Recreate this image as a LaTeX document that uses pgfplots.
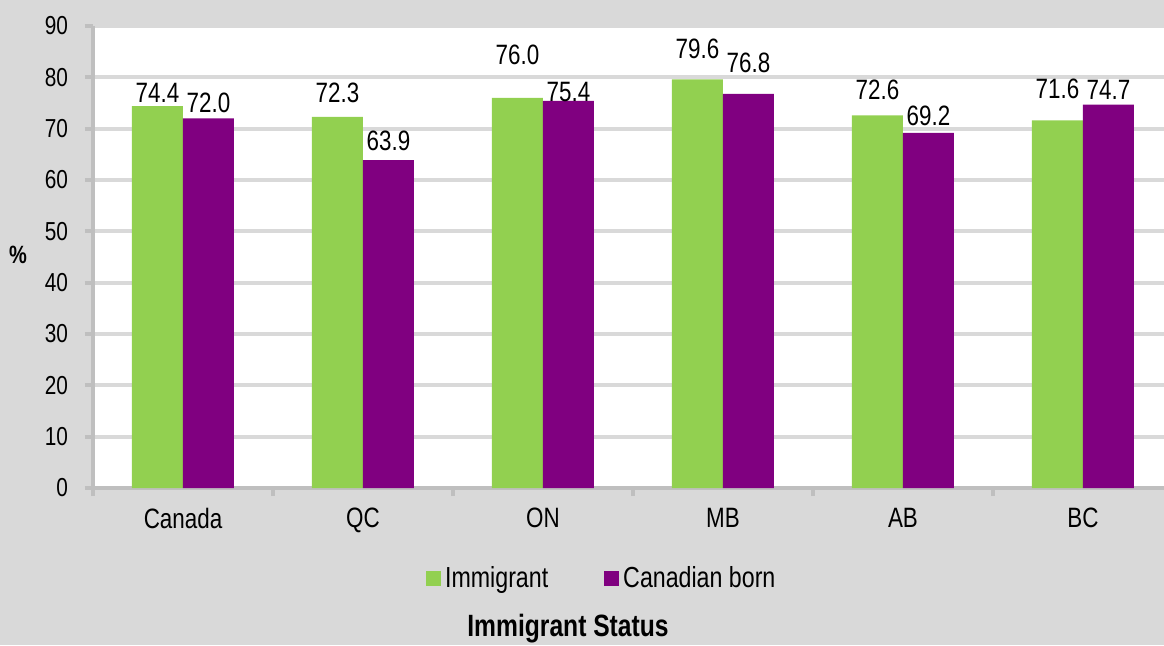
\documentclass[border=0pt]{standalone}
\usepackage{fontspec}
\setmainfont{Liberation Sans}[FakeStretch=0.8]
\usepackage{pgfplots}
\pgfplotsset{compat=1.18}
\definecolor{immig}{HTML}{92D050}
\definecolor{canborn}{HTML}{800080}
\definecolor{bg}{HTML}{D9D9D9}
\definecolor{axgray}{HTML}{BFBFBF}

% x, value, dy = extra lift of the value label (pt)
\begin{document}
\begin{tikzpicture}
\fill[bg] (-46.5pt,-78.5pt) rectangle (535.5pt,244pt);
\begin{axis}[
  at={(0,0)}, anchor=south west,
  scale only axis, width=535.5pt, height=231pt,
  axis background/.style={fill=white},
  ybar=0pt, bar width=25.5pt,
  ymin=0, ymax=90, ytick={0,10,...,90},
  xmin=-0.5, xmax=5.45,
  xtick={0,...,5}, xticklabels={Canada,QC,ON,MB,AB,BC},
  minor xtick={-0.5,0.5,...,5.5},
  tick align=outside, major tick length=4pt, minor tick length=4pt,
  tick style={axgray, line width=2pt},
  major x tick style={draw=none},
  axis x line*=bottom, axis y line*=left,
  axis line style={axgray, line width=2pt, -},
  ymajorgrids, grid style={bg, line width=2pt},
  /pgf/number format/assume math mode=true,
  yticklabel style={font=\fontsize{13}{15}\selectfont, xshift=-5pt},
  xticklabel style={font=\fontsize{14}{16}\selectfont, yshift=-2.5pt},
  visualization depends on={\thisrow{dy} \as \dy},
  nodes near coords={\pgfmathprintnumber[fixed,fixed zerofill,precision=1,assume math mode=true]{\pgfplotspointmeta}},
  every node near coord/.append style={font=\fontsize{14}{16}\selectfont, inner sep=1.5pt, black, yshift=\dy pt},
  legend style={at={(0.476,-0.195)}, anchor=center, draw=none, fill=none,
    legend columns=2, font=\fontsize{14.5}{17}\selectfont,
    /tikz/every even column/.append style={column sep=26pt}},
  legend image code/.code={\fill[#1] (0pt,-3.75pt) rectangle (7.5pt,3.75pt);},
]
\addplot[fill=immig, draw=none] table {
x y dy
0 74.4 0
1 72.3 5.5
2 76.0 15
3 79.6 8.5
4 72.6 6
5 71.6 9
};
\addplot[fill=canborn, draw=none] table {
x y dy
0 72.0 1
1 63.9 3
2 75.4 -2
3 76.8 9
4 69.2 2
5 74.7 1
};
\legend{Immigrant, Canadian born}
\end{axis}
\node[font=\bfseries\fontsize{12.5}{15}\selectfont] at (-37.5pt,116.5pt) {\%};
\node[font=\bfseries\fontsize{15.4}{18}\selectfont] at (237.5pt,-70.5pt) {Immigrant Status};
\pgfresetboundingbox
\path[use as bounding box] (-46.5pt,-78.5pt) rectangle (535.5pt,244pt);
\end{tikzpicture}
\end{document}
